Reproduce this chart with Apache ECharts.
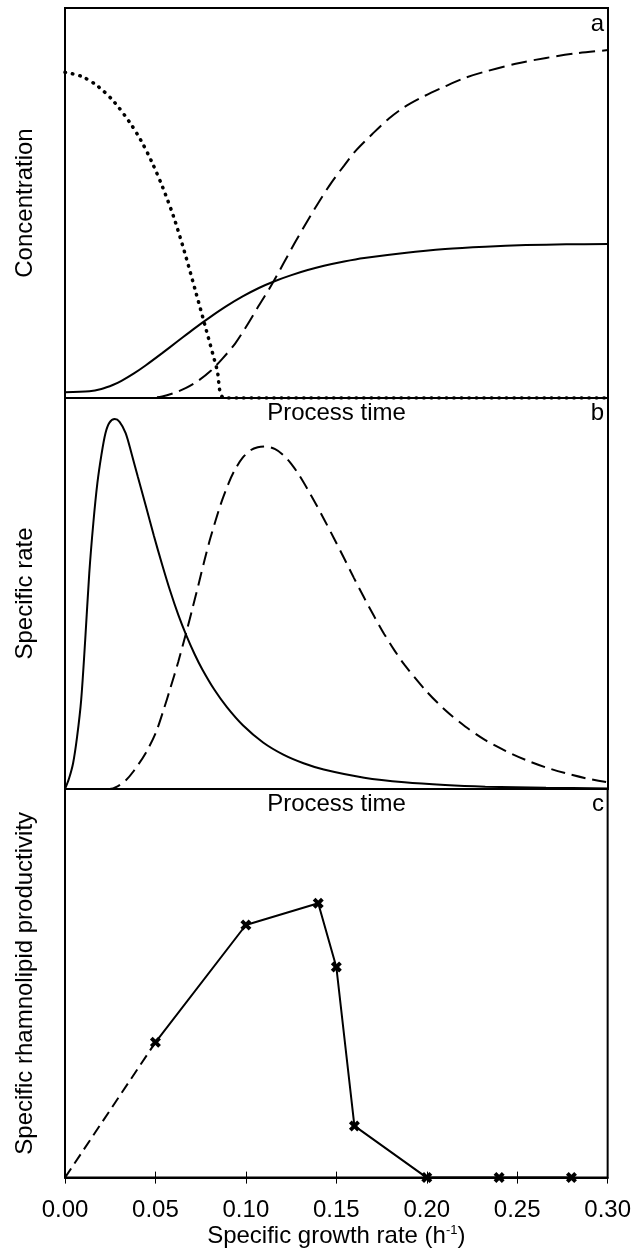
<!DOCTYPE html>
<html>
<head>
<meta charset="utf-8">
<script src="https://cdn.jsdelivr.net/npm/echarts@6/dist/echarts.min.js"></script>
<style>
html,body{margin:0;padding:0;background:#fff;}
#chart{width:634px;height:1249px;}
</style>
</head>
<body>
<div id="chart"></div>
<script>
// ---- Panel a: concentrations vs process time (relative units 0-100) ----
var subTime  = [0, 3, 6, 9, 12, 14, 16, 18, 20, 22, 24, 26, 28, 29.4, 40, 100];
var subConc  = [83.5, 82.5, 80.0, 76.0, 70.5, 66.0, 60.5, 54.0, 46.5, 37.5, 27.6, 17.5, 7.3, 0, 0, 0];
var bioTime  = [0, 4.5, 6.7, 8.9, 10.4, 12.7, 14.9, 17.9, 20.8, 23.8, 26.8, 29.8, 32.8, 35.7, 38.7, 41.7, 44.7, 47.7, 51.4, 55.1, 62.5, 70.0, 77.4, 84.9, 92.3, 100];
var bioConc  = [1.5, 1.7, 2.3, 3.4, 4.4, 6.3, 8.4, 11.5, 14.6, 17.8, 20.8, 23.6, 26.1, 28.2, 30.0, 31.5, 32.8, 33.9, 35.0, 35.9, 37.2, 38.2, 38.8, 39.2, 39.4, 39.5];
var prodTime = [0, 15.6, 17.9, 20.1, 22.3, 24.6, 26.8, 29.0, 31.3, 33.5, 35.7, 38.0, 40.2, 42.4, 44.7, 46.9, 49.1, 51.4, 53.6, 56.6, 59.6, 62.5, 66.3, 70.0, 73.7, 77.4, 83.0, 88.6, 94.2, 100];
var prodConc = [0, 0, 0.4, 1.3, 2.6, 4.5, 6.9, 10.1, 13.9, 18.6, 23.7, 28.9, 34.4, 40.0, 45.5, 50.6, 55.3, 59.6, 63.5, 67.7, 71.6, 74.6, 77.5, 79.9, 82.1, 83.7, 85.7, 87.2, 88.4, 89.2];

// ---- Panel b: specific rates vs process time ----
var growthTime = [0, 0.74, 1.49, 2.23, 2.98, 3.72, 4.47, 5.21, 5.96, 6.70, 7.45, 8.19, 9.16, 10.05, 11.17, 12.29, 13.40, 14.89, 16.38, 17.87, 19.36, 20.85, 22.34, 23.83, 25.32, 27.55, 29.78, 32.76, 36.48, 40.21, 43.93, 47.65, 55.1, 62.5, 70.0, 77.4, 88.6, 100];
var growthRate = [0, 2.7, 6.6, 13.4, 22.8, 38.1, 55.2, 67.9, 78.2, 85.4, 91.0, 93.7, 94.6, 93.9, 91.0, 85.6, 79.9, 72.4, 64.7, 57.5, 50.7, 44.6, 39.3, 34.6, 30.5, 25.3, 21.0, 16.3, 11.9, 8.8, 6.6, 5.0, 2.9, 1.7, 1.0, 0.6, 0.3, 0.15];
var prodRateTime = [0, 8.19, 9.68, 11.17, 12.66, 14.9, 16.75, 18.24, 19.36, 20.85, 22.49, 23.53, 24.57, 25.69, 26.8, 28.67, 30.16, 31.27, 32.76, 34.25, 35.5, 36.86, 38.7, 40.2, 41.7, 43.2, 44.7, 46.2, 47.7, 49.5, 51.4, 53.2, 55.1, 56.96, 58.8, 60.7, 62.5, 66.3, 70, 73.7, 77.4, 81.2, 84.9, 88.6, 92.3, 96.1, 100];
var prodRate     = [0, 0, 0.7, 2.2, 4.6, 9.3, 14.5, 20.6, 25.6, 32.5, 40.9, 46.5, 52.2, 58.5, 64.3, 72.8, 78.3, 81.6, 84.8, 86.7, 87.4, 87.6, 86.9, 85.4, 83.1, 80.1, 76.6, 72.9, 69.0, 64.2, 59.0, 54.0, 48.9, 44.1, 39.6, 35.4, 31.8, 25.4, 20.2, 16.0, 12.5, 9.7, 7.4, 5.5, 4.0, 2.7, 1.7];

// ---- Panel c: specific rhamnolipid productivity vs specific growth rate ----
var muValues     = [0.05, 0.10, 0.14, 0.15, 0.16, 0.20, 0.24, 0.28];
var productivity = [34.8, 65.0, 70.6, 54.2, 13.3, 0, 0, 0];
var extrapMu     = [0, 0.05];
var extrapProd   = [0, 34.8];
var muTicks      = ['0.00', '0.05', '0.10', '0.15', '0.20', '0.25', '0.30'];

function zip(xs, ys){ return xs.map(function(x,i){ return [x, ys[i]]; }); }

var FONT = 'Liberation Sans, Arial, sans-serif';
var L = 65, W = 543;
var grids = [
  {left: L, width: W, top: 8, height: 390},
  {left: L, width: W, top: 398, height: 391},
  {left: L, width: W, top: 789, height: 392}
];
grids.forEach(function(g){ g.show = true; g.borderColor = '#000'; g.borderWidth = 2; g.backgroundColor = 'transparent'; });

function hiddenX(idx, name){
  return {
    type: 'value', gridIndex: idx, min: 0, max: 100,
    axisLine: {show: false}, axisTick: {show: false}, axisLabel: {show: false}, splitLine: {show: false},
    name: name, nameLocation: 'middle', nameGap: 3,
    nameTextStyle: {fontFamily: FONT, fontSize: 24, color: '#000', verticalAlign: 'top'}
  };
}
function leftY(idx, name){
  return {
    type: 'value', gridIndex: idx, min: 0, max: 100,
    axisLine: {show: false}, axisTick: {show: false}, axisLabel: {show: false}, splitLine: {show: false},
    name: name, nameLocation: 'middle', nameGap: 28,
    nameTextStyle: {fontFamily: FONT, fontSize: 24, color: '#000'}
  };
}

var option = {
  animation: false,
  backgroundColor: '#fff',
  grid: grids,
  xAxis: [
    hiddenX(0, 'Process time'),
    hiddenX(1, 'Process time'),
    {
      type: 'value', gridIndex: 2, min: 0, max: 0.30, interval: 0.05, position: 'bottom',
      axisLine: {show: true, lineStyle: {color: '#000', width: 2}},
      axisTick: {show: true, length: 6, lineStyle: {color: '#000', width: 1}},
      axisLabel: {show: true, margin: 21, fontFamily: FONT, fontSize: 24, color: '#000',
        formatter: function(v){ return muTicks[Math.round(v / 0.05)]; }},
      splitLine: {show: false},
      name: 'Specific growth rate (h{sup|-1})', nameLocation: 'middle', nameGap: 45,
      nameTextStyle: {fontFamily: FONT, fontSize: 24, color: '#000',
        rich: {sup: {fontFamily: FONT, fontSize: 13, color: '#000', verticalAlign: 'top', padding: [0, 0, 12, 0]}}}
    },
    {
      type: 'value', gridIndex: 2, min: 0, max: 0.30, interval: 0.05, position: 'bottom',
      axisLine: {show: false},
      axisTick: {show: true, inside: true, length: 6, lineStyle: {color: '#000', width: 1}},
      axisLabel: {show: false}, splitLine: {show: false}
    }
  ],
  yAxis: [
    leftY(0, 'Concentration'),
    leftY(1, 'Specific rate'),
    leftY(2, 'Specific rhamnolipid productivity')
  ],
  graphic: [
    {type: 'text', right: 30, top: 12, style: {text: 'a', font: '24px ' + FONT, fill: '#000'}},
    {type: 'text', right: 30, top: 401, style: {text: 'b', font: '24px ' + FONT, fill: '#000'}},
    {type: 'text', right: 30, top: 792, style: {text: 'c', font: '24px ' + FONT, fill: '#000'}}
  ],
  series: [
    {type: 'line', xAxisIndex: 0, yAxisIndex: 0, data: zip(subTime, subConc), smooth: 0.3, showSymbol: false,
      lineStyle: {color: '#000', width: 3.5, type: [0.5, 7], cap: 'round'}},
    {type: 'line', xAxisIndex: 0, yAxisIndex: 0, data: zip(bioTime, bioConc), smooth: 0.3, showSymbol: false,
      lineStyle: {color: '#000', width: 2}},
    {type: 'line', xAxisIndex: 0, yAxisIndex: 0, data: zip(prodTime, prodConc), smooth: 0.3, showSymbol: false,
      lineStyle: {color: '#000', width: 2, type: [16, 7]}},
    {type: 'line', xAxisIndex: 1, yAxisIndex: 1, data: zip(growthTime, growthRate), smooth: 0.3, showSymbol: false,
      lineStyle: {color: '#000', width: 2}},
    {type: 'line', xAxisIndex: 1, yAxisIndex: 1, data: zip(prodRateTime, prodRate), smooth: 0.3, showSymbol: false,
      lineStyle: {color: '#000', width: 2, type: [14, 7]}},
    {type: 'line', xAxisIndex: 2, yAxisIndex: 2, data: zip(extrapMu, extrapProd), showSymbol: false,
      lineStyle: {color: '#000', width: 2, type: [11, 6]}},
    {type: 'line', xAxisIndex: 2, yAxisIndex: 2, data: zip(muValues, productivity),
      symbol: 'path://M0,2.5L2.5,0L5,2.5L7.5,0L10,2.5L7.5,5L10,7.5L7.5,10L5,7.5L2.5,10L0,7.5L2.5,5Z',
      symbolSize: 11, showSymbol: true, clip: false,
      itemStyle: {color: '#000'},
      lineStyle: {color: '#000', width: 2}}
  ]
};

var chart = echarts.init(document.getElementById('chart'), null, {renderer: 'canvas'});
chart.setOption(option);
</script>
</body>
</html>
